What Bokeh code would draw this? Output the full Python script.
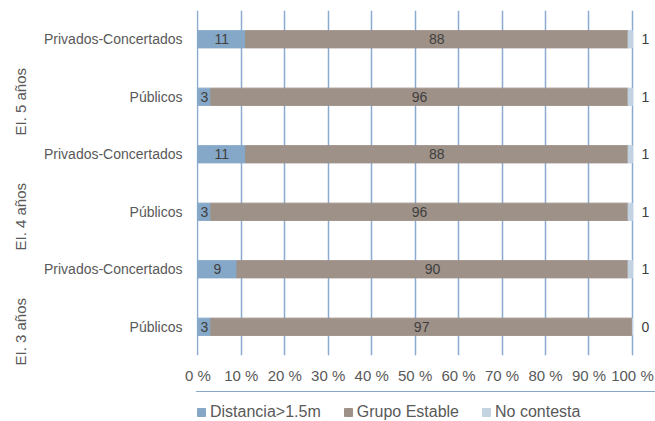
import math
from bokeh.plotting import figure
from bokeh.layouts import column
from bokeh.models import Range1d, FixedTicker, Legend, LegendItem, ColumnDataSource, LinearAxis
from bokeh.core.properties import value
from bokeh.embed import file_html
from bokeh.resources import INLINE

# bottom to top
groups = ["EI. 3 años", "EI. 4 años", "EI. 5 años"]
centers = ["Públicos", "Privados-Concertados", "Públicos", "Privados-Concertados", "Públicos", "Privados-Concertados"]
distancia = [3, 9, 3, 11, 3, 11]
grupo = [97, 90, 96, 88, 96, 88]
no_contesta = [0, 1, 1, 1, 1, 1]
series_names = ["Distancia>1.5m", "Grupo Estable", "No contesta"]
colors = ["#86a8c8", "#9e9188", "#c3d3e2"]
x_ticks = [0, 10, 20, 30, 40, 50, 60, 70, 80, 90, 100]
x_tick_labels = [f"{t} %" for t in x_ticks]

n = len(centers)
ypos = [i + 0.5 for i in range(n)]
gpos = [2 * j + 1 for j in range(len(groups))]

FONT = "Liberation Sans"
TXT = "#595959"

p = figure(width=655, height=391, output_backend="svg", toolbar_location=None,
           y_range=Range1d(0, n), x_range=Range1d(-0.3, 105.3),
           min_border_left=196, min_border_right=0, min_border_top=10, min_border_bottom=36)
p.outline_line_color = None

d0 = [0] * n
d1 = distancia
d2 = [a + b for a, b in zip(distancia, grupo)]
d3 = [a + b + c for a, b, c in zip(distancia, grupo, no_contesta)]

src = ColumnDataSource(dict(y=ypos, d0=d0, d1=d1, d2=d2, d3=d3,
                            l1=[str(v) for v in distancia],
                            l2=[str(v) for v in grupo],
                            l3=[str(v) for v in no_contesta],
                            m1=[(a + b) / 2 for a, b in zip(d0, d1)],
                            m2=[(a + b) / 2 for a, b in zip(d1, d2)],
                            x3=[103] * n))

bounds = [("d0", "d1"), ("d1", "d2"), ("d2", "d3")]
for (lft, rgt), c in zip(bounds, colors):
    p.hbar(y="y", left=lft, right=rgt, height=0.3, color=c, source=src)

tf = dict(text_font=value(FONT), text_font_size="14px", text_color="#404040",
          text_align="center", text_baseline="middle")
p.text(x="m1", y="y", text="l1", source=src, **tf)
p.text(x="m2", y="y", text="l2", source=src, **tf)
p.text(x="x3", y="y", text="l3", source=src, **tf)

p.ygrid.grid_line_color = None
p.xgrid.grid_line_color = "#8aabcf"
p.xgrid.grid_line_width = 1.5
p.xaxis.ticker = FixedTicker(ticks=x_ticks)
p.xaxis.major_label_overrides = {t: l for t, l in zip(x_ticks, x_tick_labels)}
p.xaxis.axis_line_color = None
p.xaxis.major_tick_line_color = None
p.xaxis.minor_tick_line_color = None
p.xaxis.major_label_standoff = 5
p.xaxis.major_label_text_font = FONT
p.xaxis.major_label_text_font_size = "15px"
p.xaxis.major_label_text_color = TXT

def style_y(ax, size):
    ax.axis_line_color = None
    ax.major_tick_line_color = None
    ax.minor_tick_line_color = None
    ax.major_label_text_font = FONT
    ax.major_label_text_font_size = size
    ax.major_label_text_color = TXT

yax = p.yaxis[0]
yax.ticker = FixedTicker(ticks=ypos)
yax.major_label_overrides = {y: c for y, c in zip(ypos, centers)}
yax.major_label_standoff = 8
style_y(yax, "14px")

gax = LinearAxis(ticker=FixedTicker(ticks=gpos),
                 major_label_overrides={g: t for g, t in zip(gpos, groups)},
                 major_label_orientation=math.pi / 2, major_label_standoff=14)
style_y(gax, "15px")
p.add_layout(gax, "left")

# legend strip (its bars lie outside its visible range; only the legend shows)
p2 = figure(width=655, height=30, output_backend="svg", toolbar_location=None,
            x_range=Range1d(0, 1), y_range=Range1d(-10, -9),
            x_axis_location=None, y_axis_location=None,
            min_border_left=0, min_border_right=0, min_border_top=0, min_border_bottom=0)
p2.outline_line_color = None
p2.xgrid.grid_line_color = None
p2.ygrid.grid_line_color = None
lr = [p2.hbar(y="y", left=lft, right=rgt, height=0.3, color=c, source=src)
      for (lft, rgt), c in zip(bounds, colors)]

legend = Legend(items=[LegendItem(label=s, renderers=[r]) for s, r in zip(series_names, lr)],
                orientation="horizontal", location=(0, 0),
                label_text_font=FONT, label_text_font_size="16px", label_text_color=TXT,
                glyph_width=10, glyph_height=10, spacing=22, label_standoff=4,
                border_line_color=None, background_fill_alpha=0, padding=0, margin=0)
p2.add_layout(legend, "center")

layout = column(p, p2, spacing=0)
open("out.html", "w").write(file_html(layout, INLINE))
